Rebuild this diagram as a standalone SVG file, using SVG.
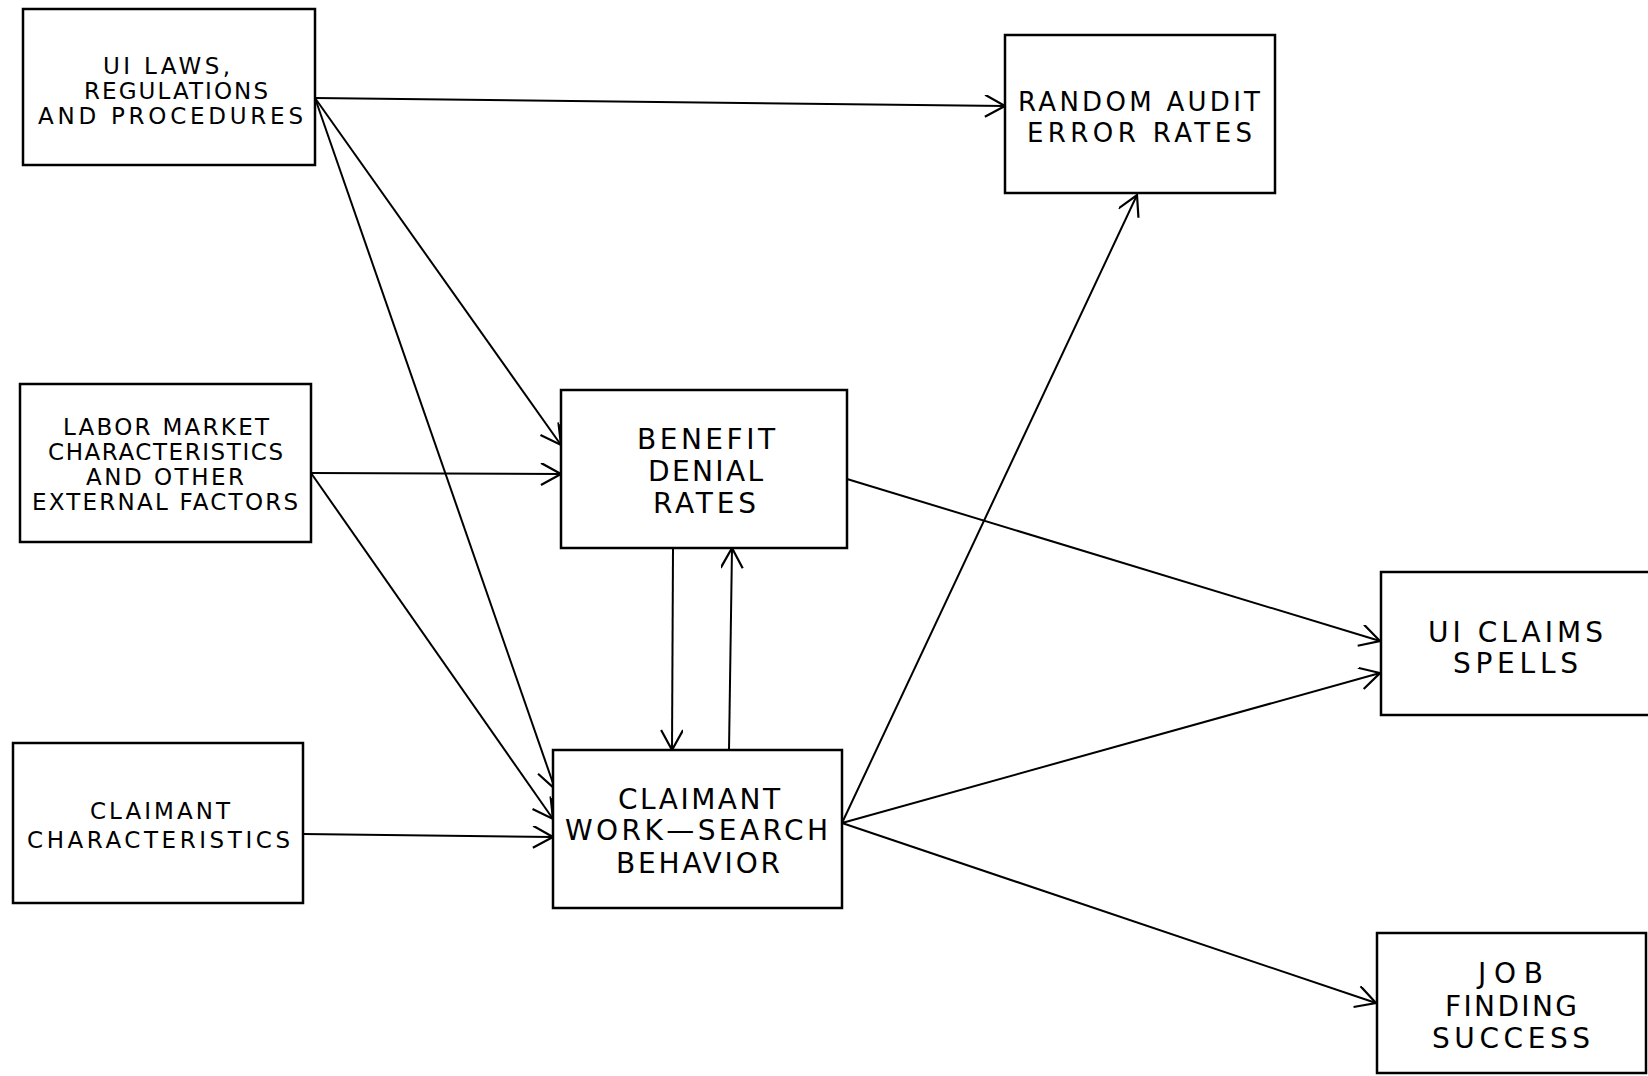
<svg xmlns="http://www.w3.org/2000/svg" width="1648" height="1076" viewBox="0 0 1648 1076">
<defs>
<marker id="arr" markerUnits="userSpaceOnUse" markerWidth="24" markerHeight="24" viewBox="0 0 24 24" refX="21" refY="11" orient="auto">
<path d="M1,0 L21,11 L1,22" fill="none" stroke="#000" stroke-width="2.2"/>
</marker>
<style>
.box{fill:#fff;stroke:#000;stroke-width:2.5}
.t{font-family:"DejaVu Sans",sans-serif;fill:#000}
.s{font-size:23px}
.l{font-size:28px}
.m{font-size:26px}
.c{fill:none;stroke:#000;stroke-width:2;marker-end:url(#arr)}
</style>
</defs>
<rect width="1648" height="1076" fill="#fff"/>
<g id="connectors">
<line class="c" x1="315" y1="98" x2="1005" y2="106"/>
<line class="c" x1="315" y1="98" x2="561" y2="445"/>
<line class="c" x1="315" y1="98" x2="555" y2="789"/>
<line class="c" x1="311" y1="473" x2="561" y2="474"/>
<line class="c" x1="311" y1="473" x2="553" y2="819"/>
<line class="c" x1="303" y1="834" x2="553" y2="837"/>
<line class="c" x1="673" y1="548" x2="672" y2="750"/>
<line class="c" x1="729" y1="750" x2="732" y2="548"/>
<line class="c" x1="842" y1="823" x2="1137" y2="195"/>
<line class="c" x1="847" y1="479" x2="1380" y2="641"/>
<line class="c" x1="842" y1="823" x2="1380" y2="673"/>
<line class="c" x1="842" y1="823" x2="1376" y2="1003"/>
</g>
<g id="n1">
<rect class="box" x="23" y="9" width="292" height="156"/>
<text class="t s" x="103" y="74" textLength="127" lengthAdjust="spacing">UI LAWS,</text>
<text class="t s" x="84" y="99" textLength="184" lengthAdjust="spacing">REGULATIONS</text>
<text class="t s" x="38" y="124" textLength="265" lengthAdjust="spacing">AND PROCEDURES</text>
</g>
<g id="n2">
<rect class="box" x="1005" y="35" width="270" height="158"/>
<text class="t m" x="1018" y="111" textLength="242" lengthAdjust="spacing">RANDOM AUDIT</text>
<text class="t m" x="1027" y="142" textLength="225" lengthAdjust="spacing">ERROR RATES</text>
</g>
<g id="n3">
<rect class="box" x="20" y="384" width="291" height="158"/>
<text class="t s" x="63" y="435" textLength="206" lengthAdjust="spacing">LABOR MARKET</text>
<text class="t s" x="48" y="460" textLength="235" lengthAdjust="spacing">CHARACTERISTICS</text>
<text class="t s" x="86" y="485" textLength="158" lengthAdjust="spacing">AND OTHER</text>
<text class="t s" x="32" y="510" textLength="266" lengthAdjust="spacing">EXTERNAL FACTORS</text>
</g>
<g id="n4">
<rect class="box" x="561" y="390" width="286" height="158"/>
<text class="t l" x="637" y="449" textLength="138" lengthAdjust="spacing">BENEFIT</text>
<text class="t l" x="648" y="481" textLength="115" lengthAdjust="spacing">DENIAL</text>
<text class="t l" x="653" y="513" textLength="103" lengthAdjust="spacing">RATES</text>
</g>
<g id="n5">
<rect class="box" x="13" y="743" width="290" height="160"/>
<text class="t s" x="90" y="819" textLength="140" lengthAdjust="spacing">CLAIMANT</text>
<text class="t s" x="27" y="848" textLength="263" lengthAdjust="spacing">CHARACTERISTICS</text>
</g>
<g id="n6">
<rect class="box" x="553" y="750" width="289" height="158"/>
<text class="t l" x="618" y="809" textLength="162" lengthAdjust="spacing">CLAIMANT</text>
<text class="t l" x="565" y="840" textLength="263" lengthAdjust="spacing">WORK—SEARCH</text>
<text class="t l" x="616" y="873" textLength="164" lengthAdjust="spacing">BEHAVIOR</text>
</g>
<g id="n7">
<rect class="box" x="1381" y="572" width="290" height="143"/>
<text class="t l" x="1428" y="642" textLength="175" lengthAdjust="spacing">UI CLAIMS</text>
<text class="t l" x="1453" y="673" textLength="125" lengthAdjust="spacing">SPELLS</text>
</g>
<g id="n8">
<rect class="box" x="1377" y="933" width="269" height="140"/>
<text class="t l" x="1478" y="983" textLength="65" lengthAdjust="spacing">JOB</text>
<text class="t l" x="1445" y="1016" textLength="132" lengthAdjust="spacing">FINDING</text>
<text class="t l" x="1432" y="1048" textLength="158" lengthAdjust="spacing">SUCCESS</text>
</g>
</svg>
